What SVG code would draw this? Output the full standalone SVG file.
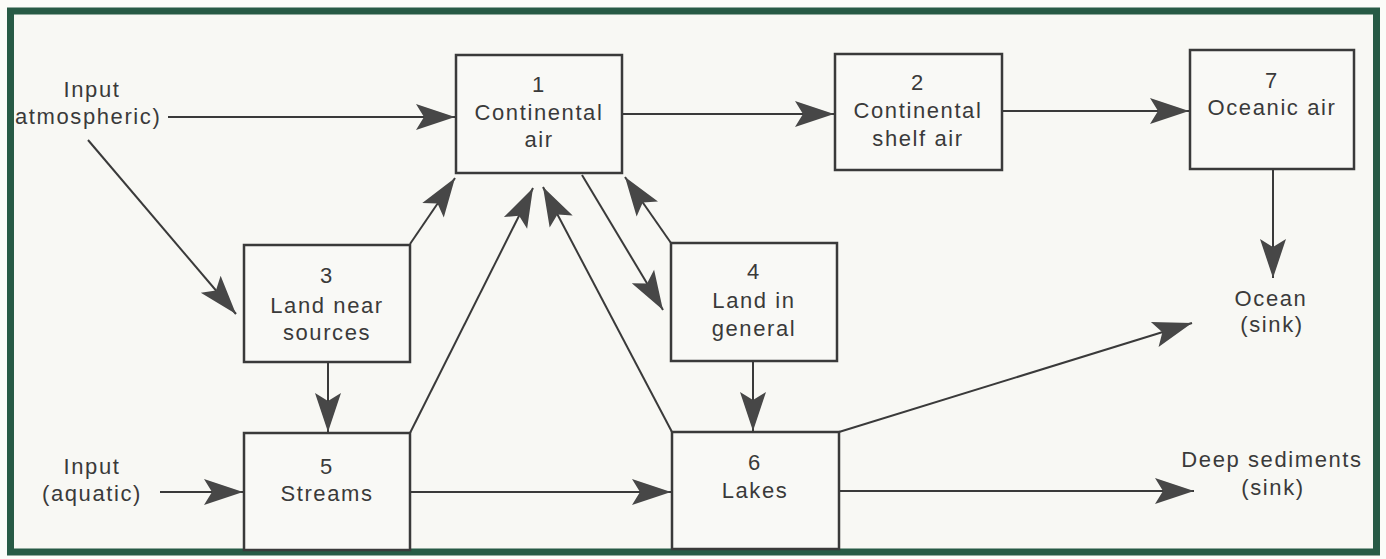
<svg xmlns="http://www.w3.org/2000/svg" width="1386" height="559" viewBox="0 0 1386 559">
<style>
.frame{fill:#f8f8f4;stroke:#275a45;stroke-width:7}
.box{fill:#f9f9f6;stroke:#3a3a3a;stroke-width:2.5}
.t{font-family:"Liberation Sans",Arial,sans-serif;font-size:22px;fill:#3a3a3a;text-anchor:middle;letter-spacing:1.6px}
.ts{font-family:"Liberation Sans",Arial,sans-serif;font-size:22px;fill:#3a3a3a;letter-spacing:1.6px}
.c{stroke:#3a3a3a;stroke-width:2;fill:none;marker-end:url(#ah)}
</style>
<defs>
<marker id="ah" markerUnits="userSpaceOnUse" markerWidth="42" markerHeight="30" viewBox="-41 -15 42 30" refX="0" refY="0" orient="auto">
<path d="M0,0 L-39,-13 L-31,0 L-39,13 Z" fill="#474747"/>
</marker>
</defs>
<rect x="0" y="0" width="1386" height="559" fill="#fbfbf8"/>
<rect class="frame" x="10.5" y="11" width="1366" height="541"/>

<g id="connectors">
<line class="c" x1="168" y1="117" x2="455" y2="117"/>
<line class="c" x1="88" y1="140" x2="236" y2="314"/>
<line class="c" x1="410" y1="244" x2="455" y2="178"/>
<line class="c" x1="328" y1="362" x2="328" y2="432"/>
<line class="c" x1="410" y1="433" x2="533" y2="188"/>
<line class="c" x1="672" y1="432" x2="543" y2="187"/>
<line class="c" x1="582" y1="175" x2="663" y2="310"/>
<line class="c" x1="671" y1="243" x2="625" y2="177"/>
<line class="c" x1="753" y1="361" x2="753" y2="431"/>
<line class="c" x1="410" y1="492" x2="671" y2="492"/>
<line class="c" x1="160" y1="492" x2="243" y2="492"/>
<line class="c" x1="622" y1="114" x2="834" y2="114"/>
<line class="c" x1="1002" y1="111" x2="1189" y2="111"/>
<line class="c" x1="1273" y1="169" x2="1273" y2="278"/>
<line class="c" x1="839" y1="432" x2="1192" y2="323"/>
<line class="c" x1="839" y1="491" x2="1194" y2="491"/>
</g>

<g id="input-atmospheric">
<text class="t" x="92" y="97">Input</text>
<text class="ts" x="15" y="124">atmospheric)</text>
</g>
<g id="input-aquatic">
<text class="t" x="92" y="474">Input</text>
<text class="t" x="92" y="501">(aquatic)</text>
</g>

<g id="node1">
<rect class="box" x="456" y="55" width="166" height="118"/>
<text class="t" x="539" y="92">1</text>
<text class="t" x="539" y="120">Continental</text>
<text class="t" x="539" y="147">air</text>
</g>
<g id="node2">
<rect class="box" x="835" y="54" width="167" height="116"/>
<text class="t" x="918" y="90">2</text>
<text class="t" x="918" y="118">Continental</text>
<text class="t" x="918" y="146">shelf air</text>
</g>
<g id="node7">
<rect class="box" x="1190" y="50" width="164" height="119"/>
<text class="t" x="1272" y="88">7</text>
<text class="t" x="1272" y="115">Oceanic air</text>
</g>
<g id="node3">
<rect class="box" x="244" y="245" width="166" height="117"/>
<text class="t" x="327" y="283">3</text>
<text class="t" x="327" y="313">Land near</text>
<text class="t" x="327" y="340">sources</text>
</g>
<g id="node4">
<rect class="box" x="671" y="243" width="166" height="118"/>
<text class="t" x="754" y="279">4</text>
<text class="t" x="754" y="308">Land in</text>
<text class="t" x="754" y="336">general</text>
</g>
<g id="node5">
<rect class="box" x="244" y="433" width="166" height="117"/>
<text class="t" x="327" y="474">5</text>
<text class="t" x="327" y="501">Streams</text>
</g>
<g id="node6">
<rect class="box" x="672" y="432" width="167" height="117"/>
<text class="t" x="755" y="470">6</text>
<text class="t" x="755" y="498">Lakes</text>
</g>
<g id="ocean">
<text class="t" x="1271" y="306">Ocean</text>
<text class="t" x="1272" y="332">(sink)</text>
</g>
<g id="deep-sediments">
<text class="t" x="1272" y="467">Deep sediments</text>
<text class="t" x="1273" y="495">(sink)</text>
</g>
</svg>
